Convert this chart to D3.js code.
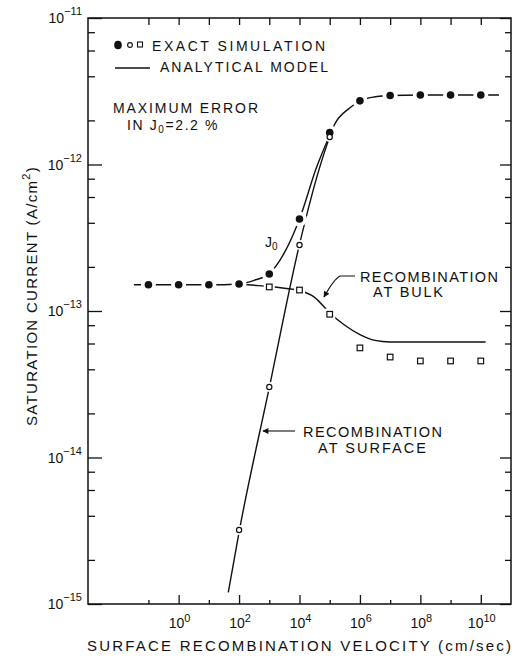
<!DOCTYPE html>
<html>
<head>
<meta charset="utf-8">
<script src="https://cdn.jsdelivr.net/npm/d3@7/dist/d3.min.js"></script>
<style>
  body { margin: 0; background: #fff; }
  text { font-family: "Liberation Sans", Arial, sans-serif; fill: #111; }
</style>
</head>
<body>
<svg id="chart" width="514" height="659"></svg>
<script>
// exact simulation points (cm/sec , A/cm2)
const velocity   = [1e-1, 1e0, 1e1, 1e2, 1e3, 1e4, 1e5, 1e6, 1e7, 1e8, 1e9, 1e10];
const j0Exact    = [1.51e-13, 1.51e-13, 1.51e-13, 1.53e-13, 1.79e-13, 4.25e-13, 1.65e-12, 2.72e-12, 2.96e-12, 2.98e-12, 2.98e-12, 2.98e-12];
const surfVelocity = [1e2, 1e3, 1e4, 1e5];
const surfExact    = [3.2e-15, 3.03e-14, 2.82e-13, 1.54e-12];
const bulkVelocity = [1e3, 1e4, 1e5, 1e6, 1e7, 1e8, 1e9, 1e10];
const bulkExact    = [1.46e-13, 1.39e-13, 9.5e-14, 5.6e-14, 4.85e-14, 4.56e-14, 4.56e-14, 4.56e-14];

// analytical model curves
const j0ModelS = [0.033, 0.1, 1, 10, 100, 316, 1e3, 3162, 1e4, 3.7e4, 1e5, 1.45e5, 4.57e5, 1e6, 3.16e6, 1e7, 1e8, 1e9, 1e10, 4e10];
const j0ModelJ = [1.51e-13, 1.51e-13, 1.51e-13, 1.51e-13, 1.53e-13, 1.62e-13, 1.8e-13, 2.5e-13, 4.25e-13, 9.6e-13, 1.58e-12, 1.88e-12, 2.43e-12, 2.72e-12, 2.9e-12, 2.96e-12, 2.98e-12, 2.98e-12, 2.98e-12, 2.98e-12];
const bulkModelS = [100, 316, 1e3, 3162, 1e4, 31623, 1e5, 316228, 1e6, 3.16e6, 1e7, 1e8, 1e9, 1.45e10];
const bulkModelJ = [1.53e-13, 1.5e-13, 1.47e-13, 1.43e-13, 1.38e-13, 1.24e-13, 9.7e-14, 8.0e-14, 6.9e-14, 6.3e-14, 6.15e-14, 6.14e-14, 6.14e-14, 6.14e-14];
const surfModelS = [44, 100, 1e3, 1e4, 4.68e4, 1e5];
const surfModelJ = [1.2e-15, 3.1e-15, 3.0e-14, 2.85e-13, 9.6e-13, 1.55e-12];

// ticks
const xLabelled = [1e0, 1e2, 1e4, 1e6, 1e8, 1e10];
const xOdd      = [1e-1, 1e1, 1e3, 1e5, 1e7, 1e9];
const yDecades  = [1e-15, 1e-14, 1e-13, 1e-12, 1e-11];
const yMinor    = [2, 4, 6, 8];

const svg = d3.select("#chart");
const plotL = 88, plotR = 511, plotT = 18, plotB = 604;

const x = d3.scaleLog().domain([1e-3, 1e11]).range([plotL, plotR]);
const y = d3.scaleLog().domain([1e-15, 1e-11]).range([plotB, plotT]);

const yMinorVals = [];
yDecades.slice(0, -1).forEach(d => yMinor.forEach(m => yMinorVals.push(d * m)));

// axes (ticks pointing inward, labels drawn separately)
function clean(g) {
  g.select(".domain").remove();
  g.selectAll("text").remove();
  g.selectAll("line").attr("stroke", "#111").attr("stroke-width", 1.3);
}
svg.append("g").attr("transform", `translate(0,${plotB})`)
  .call(d3.axisBottom(x).tickValues(xLabelled).tickSize(-9)).call(clean);
svg.append("g").attr("transform", `translate(0,${plotB})`)
  .call(d3.axisBottom(x).tickValues(xOdd).tickSize(-4)).call(clean);
svg.append("g").attr("transform", `translate(0,${plotT})`)
  .call(d3.axisTop(x).tickValues(xLabelled.concat(xOdd)).tickSize(-7)).call(clean);
svg.append("g").attr("transform", `translate(${plotL},0)`)
  .call(d3.axisLeft(y).tickValues(yDecades).tickSize(-14)).call(clean);
svg.append("g").attr("transform", `translate(${plotL},0)`)
  .call(d3.axisLeft(y).tickValues(yMinorVals).tickSize(-7)).call(clean);
svg.append("g").attr("transform", `translate(${plotR},0)`)
  .call(d3.axisRight(y).tickValues(yDecades).tickSize(-11)).call(clean);
svg.append("g").attr("transform", `translate(${plotR},0)`)
  .call(d3.axisRight(y).tickValues(yMinorVals).tickSize(-6)).call(clean);

svg.append("rect")
  .attr("x", plotL).attr("y", plotT)
  .attr("width", plotR - plotL).attr("height", plotB - plotT)
  .attr("fill", "none").attr("stroke", "#111").attr("stroke-width", 1.5);

const exp = d => String(Math.round(Math.log10(d))).replace("-", "\u2212");

// x tick labels
svg.append("g").selectAll("text").data(xLabelled).join("text")
  .attr("x", d => x(d) + 1).attr("y", 628)
  .attr("text-anchor", "middle").attr("font-size", 14)
  .each(function (d) {
    const t = d3.select(this);
    t.append("tspan").text("10");
    t.append("tspan").attr("dy", -6).attr("font-size", 11).text(exp(d));
  });

// y tick labels
svg.append("g").selectAll("text").data(yDecades).join("text")
  .attr("x", 82).attr("y", d => y(d) + 5)
  .attr("text-anchor", "end").attr("font-size", 14)
  .each(function (d) {
    const t = d3.select(this);
    t.append("tspan").text("10");
    t.append("tspan").attr("dy", -8).attr("font-size", 11).text(exp(d));
  });

// axis titles
svg.append("text")
  .attr("x", plotL - 1).attr("y", 651)
  .attr("font-size", 15)
  .attr("textLength", 424).attr("lengthAdjust", "spacing")
  .text("SURFACE RECOMBINATION VELOCITY (cm/sec)");

const yt = svg.append("text")
  .attr("transform", "translate(37,296) rotate(-90)")
  .attr("text-anchor", "middle").attr("font-size", 15)
  .attr("letter-spacing", 1.3);
yt.append("tspan").text("SATURATION CURRENT (A/cm");
yt.append("tspan").attr("dy", -7).attr("font-size", 11).text("2");
yt.append("tspan").attr("dy", 7).text(")");

// analytical model lines
const line = d3.line()
  .x(d => x(d[0])).y(d => y(d[1]))
  .curve(d3.curveMonotoneX);
const curves = [
  d3.zip(j0ModelS, j0ModelJ),
  d3.zip(bulkModelS, bulkModelJ),
  d3.zip(surfModelS, surfModelJ)
];
svg.append("g").selectAll("path").data(curves).join("path")
  .attr("d", line)
  .attr("fill", "none").attr("stroke", "#111").attr("stroke-width", 1.4);

// exact simulation markers, with a white gap around each one
const filled = d3.zip(velocity, j0Exact);
const open   = d3.zip(surfVelocity, surfExact);
const square = d3.zip(bulkVelocity, bulkExact);

const halo = svg.append("g").attr("fill", "#fff");
halo.selectAll(".hf").data(filled).join("circle").attr("class", "hf")
  .attr("cx", d => x(d[0])).attr("cy", d => y(d[1])).attr("r", 7.5);
halo.selectAll(".ho").data(open).join("circle").attr("class", "ho")
  .attr("cx", d => x(d[0])).attr("cy", d => y(d[1])).attr("r", 5);
halo.selectAll(".hs").data(square).join("rect").attr("class", "hs")
  .attr("x", d => x(d[0]) - 5.5).attr("y", d => y(d[1]) - 5.5)
  .attr("width", 11).attr("height", 11);

const marks = svg.append("g");
marks.selectAll(".f").data(filled).join("circle").attr("class", "f")
  .attr("cx", d => x(d[0])).attr("cy", d => y(d[1])).attr("r", 3.8)
  .attr("fill", "#111");
marks.selectAll(".o").data(open).join("circle").attr("class", "o")
  .attr("cx", d => x(d[0])).attr("cy", d => y(d[1])).attr("r", 2.6)
  .attr("fill", "#fff").attr("stroke", "#111").attr("stroke-width", 1.2);
marks.selectAll(".s").data(square).join("rect").attr("class", "s")
  .attr("x", d => x(d[0]) - 2.8).attr("y", d => y(d[1]) - 2.8)
  .attr("width", 5.6).attr("height", 5.6)
  .attr("fill", "#fff").attr("stroke", "#111").attr("stroke-width", 1.2);

// legend
const lg = svg.append("g");
lg.append("ellipse").attr("cx", 118).attr("cy", 45).attr("rx", 3.8).attr("ry", 4.3)
  .attr("fill", "#111");
lg.append("circle").attr("cx", 130).attr("cy", 45).attr("r", 2.4)
  .attr("fill", "#fff").attr("stroke", "#111").attr("stroke-width", 1.1);
lg.append("rect").attr("x", 137.5).attr("y", 42).attr("width", 5).attr("height", 5)
  .attr("fill", "#fff").attr("stroke", "#111").attr("stroke-width", 1.1);
lg.append("text").attr("x", 152).attr("y", 51).attr("font-size", 14)
  .attr("textLength", 173).attr("lengthAdjust", "spacing").text("EXACT SIMULATION");
lg.append("line").attr("x1", 115).attr("x2", 150).attr("y1", 68).attr("y2", 68)
  .attr("stroke", "#111").attr("stroke-width", 1.3);
lg.append("text").attr("x", 160).attr("y", 72).attr("font-size", 14)
  .attr("textLength", 168).attr("lengthAdjust", "spacing").text("ANALYTICAL MODEL");

svg.append("text").attr("x", 113).attr("y", 113).attr("font-size", 14)
  .attr("textLength", 145).attr("lengthAdjust", "spacing").text("MAXIMUM ERROR");
const err = svg.append("text").attr("x", 127).attr("y", 130).attr("font-size", 14)
  .attr("letter-spacing", 1.6);
err.append("tspan").text("IN  J");
err.append("tspan").attr("dy", 3).attr("font-size", 10).text("0");
err.append("tspan").attr("dy", -3).text("=2.2 %");

// curve annotations
const jl = svg.append("text").attr("x", 265).attr("y", 247).attr("font-size", 14);
jl.append("tspan").text("J");
jl.append("tspan").attr("dy", 3).attr("font-size", 10).text("0");

svg.append("defs").append("marker")
  .attr("id", "arrow").attr("viewBox", "0 0 10 10")
  .attr("refX", 9).attr("refY", 5)
  .attr("markerWidth", 8).attr("markerHeight", 6)
  .attr("markerUnits", "userSpaceOnUse")
  .attr("orient", "auto")
  .append("path").attr("d", "M0,0L10,5L0,10Z").attr("fill", "#111");

svg.append("path")
  .attr("d", "M355,276L340,276Q334,279 324,297")
  .attr("fill", "none").attr("stroke", "#111").attr("stroke-width", 1.1)
  .attr("marker-end", "url(#arrow)");
svg.append("text").attr("x", 360).attr("y", 282).attr("font-size", 14.5)
  .attr("textLength", 138).attr("lengthAdjust", "spacing").text("RECOMBINATION");
svg.append("text").attr("x", 373).attr("y", 297).attr("font-size", 14.5)
  .attr("textLength", 70).attr("lengthAdjust", "spacing").text("AT BULK");

svg.append("path")
  .attr("d", "M295,431L263,431")
  .attr("fill", "none").attr("stroke", "#111").attr("stroke-width", 1.1)
  .attr("marker-end", "url(#arrow)");
svg.append("text").attr("x", 303).attr("y", 437).attr("font-size", 14.5)
  .attr("textLength", 139).attr("lengthAdjust", "spacing").text("RECOMBINATION");
svg.append("text").attr("x", 318).attr("y", 453).attr("font-size", 14.5)
  .attr("textLength", 108).attr("lengthAdjust", "spacing").text("AT SURFACE");
</script>
</body>
</html>
